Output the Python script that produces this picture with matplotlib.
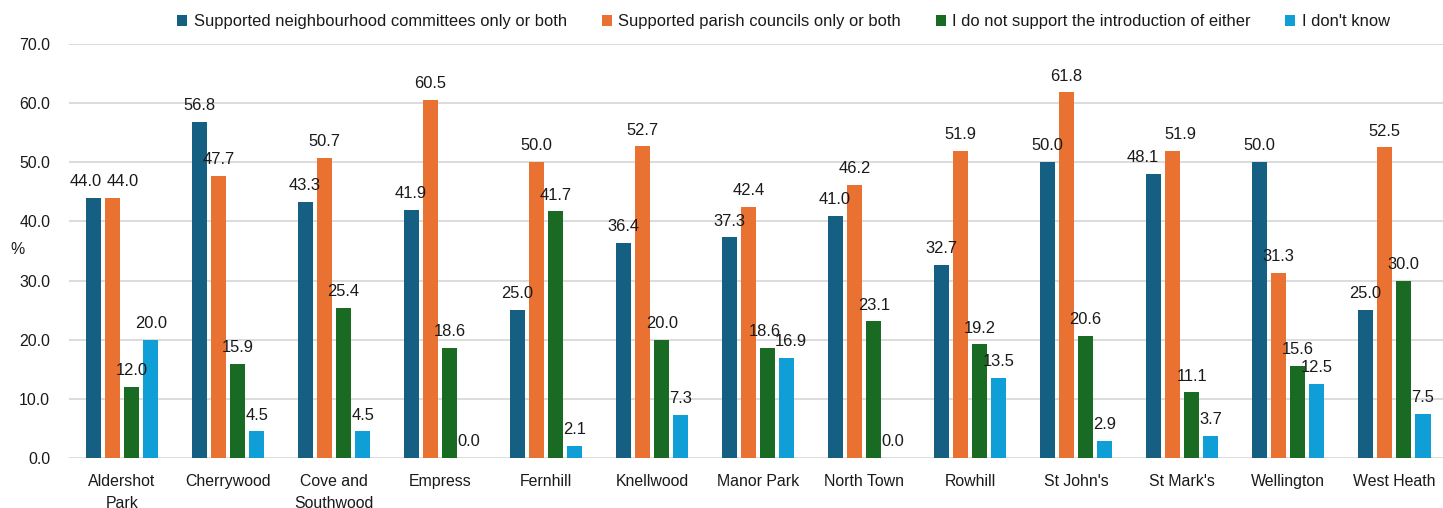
import numpy as np
import matplotlib.pyplot as plt

plt.rcParams['font.family'] = ['Liberation Sans', 'DejaVu Sans']

wards = ['Aldershot\nPark', 'Cherrywood', 'Cove and\nSouthwood', 'Empress', 'Fernhill',
         'Knellwood', 'Manor Park', 'North Town', 'Rowhill', "St John's", "St Mark's",
         'Wellington', 'West Heath']
neighbourhood = [44.0, 56.8, 43.3, 41.9, 25.0, 36.4, 37.3, 41.0, 32.7, 50.0, 48.1, 50.0, 25.0]
parish = [44.0, 47.7, 50.7, 60.5, 50.0, 52.7, 42.4, 46.2, 51.9, 61.8, 51.9, 31.3, 52.5]
neither = [12.0, 15.9, 25.4, 18.6, 41.7, 20.0, 18.6, 23.1, 19.2, 20.6, 11.1, 15.6, 30.0]
dont_know = [20.0, 4.5, 4.5, 0.0, 2.1, 7.3, 16.9, 0.0, 13.5, 2.9, 3.7, 12.5, 7.5]

series = [
    ('Supported neighbourhood committees only or both', neighbourhood, '#156082'),
    ('Supported parish councils only or both', parish, '#E97132'),
    ('I do not support the introduction of either', neither, '#196B24'),
    ("I don't know", dont_know, '#0F9ED5'),
]

# labels pushed sideways so they don't collide (ward idx, series idx) -> px
nudge = {(0, 0): -7, (0, 1): 10, (10, 0): -10, (10, 1): 8, (6, 2): -3, (6, 3): 4}

fig = plt.figure(figsize=(14.43, 5.08), dpi=100)
ax = fig.add_axes([0.0478, 0.0984, 0.955, 0.815])

x = np.arange(len(wards))
step = 0.182
w = 0.142
for i, (name, vals, col) in enumerate(series):
    pos = x + (i - 1.5) * step
    ax.bar(pos, vals, width=w, color=col, label=name, zorder=3)
    for j, (p, v) in enumerate(zip(pos, vals)):
        dx = nudge.get((j, i), 0) * 0.72
        ax.annotate(f'{v:.1f}', (p, v), xytext=(dx, 8.5), textcoords='offset points',
                    ha='center', va='baseline', fontsize=11.9, color='#1a1a1a', zorder=4)

ax.set_xlim(-0.5, len(wards) - 0.5)
ax.set_ylim(0, 70)
ax.set_yticks(np.arange(0, 71, 10))
ax.set_yticklabels([f'{t:.1f}' for t in np.arange(0, 71, 10)])
ax.set_xticks(x)
ax.set_xticklabels(wards, linespacing=1.6, fontsize=11.7)
ax.tick_params(axis='both', length=0, labelsize=11.4, colors='#1a1a1a')
ax.tick_params(axis='x', pad=11.5)
ax.tick_params(axis='y', pad=13.5)
ax.grid(axis='y', color='#d9d9d9', linewidth=1.3, zorder=0)
for s in ax.spines.values():
    s.set_visible(False)

fig.text(0.007, 0.508, '%', fontsize=11.4, color='#1a1a1a', ha='left', va='center')

fig.legend(loc='center', bbox_to_anchor=(0.543, 0.957), ncol=4, frameon=False,
           fontsize=11.9, handlelength=0.6, handleheight=0.6, handletextpad=0.4,
           columnspacing=2.1, labelcolor='#1a1a1a')

fig.savefig('out.png', dpi=100)
